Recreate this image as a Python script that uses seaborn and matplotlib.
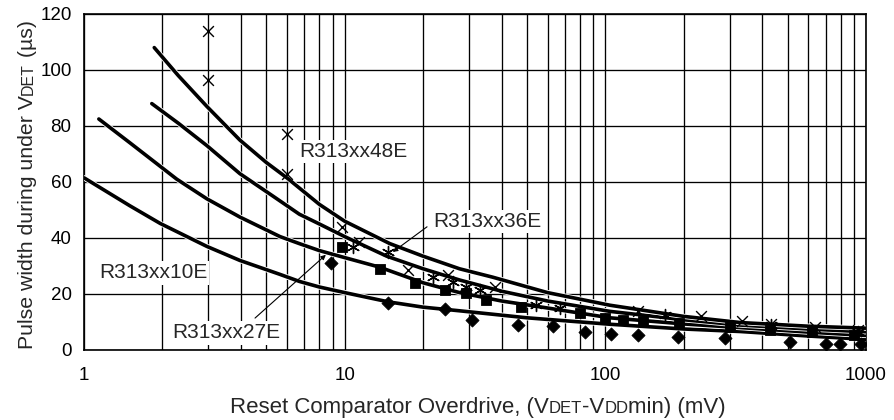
import matplotlib
matplotlib.use("Agg")
import matplotlib.pyplot as plt
import matplotlib.patheffects as pe
from matplotlib.ticker import LogLocator, FixedLocator, FuncFormatter, NullFormatter
from matplotlib.transforms import IdentityTransform
from matplotlib.font_manager import FontProperties
import pandas as pd
import seaborn as sns

# fitted curves, one per part
x_48e = [1.86, 2.3, 2.96, 3.96, 5.0, 6.0, 8.0, 10, 14.9, 20, 27.6, 37, 60, 104, 200, 330, 600, 1000]
y_48e = [108, 98, 87, 75, 67, 61.5, 52, 46, 38, 33.5, 29, 26, 20.5, 16, 12, 9.8, 8.5, 7.8]
x_36e = [1.82, 2.3, 2.96, 3.96, 5.3, 6.7, 8.0, 10, 14.5, 20, 27.6, 40, 60, 104, 200, 330, 600, 1000]
y_36e = [88, 81, 73, 63, 55, 48.5, 45, 40.5, 33.5, 29, 25, 21, 17.5, 13.8, 10.8, 8.9, 7.5, 6.5]
x_27e = [1.14, 1.5, 2.27, 2.96, 3.96, 5.65, 6.7, 8.0, 10, 13.6, 20, 27.6, 40, 60, 104, 200, 330, 600, 1000]
y_27e = [82.5, 74, 61, 54, 47.5, 40.5, 38, 35.5, 33, 29.6, 24, 20.5, 17.5, 15, 11.5, 9.3, 8.0, 6.4, 5.2]
x_10e = [1.0, 1.5, 1.96, 2.96, 3.96, 5.65, 6.7, 8.0, 10, 14.7, 20, 27.6, 50, 104, 200, 330, 600, 1000]
y_10e = [61.5, 51.5, 45.2, 37, 32, 27, 24.5, 22.5, 20.5, 17.2, 15.3, 14, 11.5, 9.2, 7.5, 6.6, 5.0, 3.8]

# measured points
mx_48e = [3, 3, 6, 6, 9.8, 11.4, 17.5, 24.9, 37.7, 133, 233, 333, 433, 635, 930]
my_48e = [114, 96.5, 77, 63, 44, 38.5, 28.5, 26.8, 22.6, 13.8, 12, 10.5, 9.2, 8.2, 7.3]
mx_36e = [10.8, 14.7, 21.8, 26, 29.3, 33, 54.3, 66.8, 169, 433, 930]
my_36e = [36.8, 35, 26.1, 24.3, 22.5, 21.4, 16.1, 14.9, 12.5, 9.0, 6.5]
mx_27e = [9.75, 13.7, 18.6, 24.2, 29.3, 34.9, 47.6, 80, 99.5, 117, 139, 192, 300, 430, 620, 900]
my_27e = [36.8, 29.1, 23.8, 21.4, 20.2, 17.8, 15.2, 13.1, 11.4, 10.8, 10.3, 9.8, 8.2, 7.2, 6.3, 5.3]
mx_10e = [8.9, 14.7, 24.2, 30.8, 46.2, 63, 83.6, 105, 134, 190, 287, 510, 705, 795, 955]
my_10e = [31, 16.9, 14.5, 10.7, 8.9, 8.4, 6.6, 5.6, 5.2, 4.5, 4.2, 2.8, 2.3, 2.3, 2.3]

x_major = [1, 10, 100, 1000]
y_major = [0, 20, 40, 60, 80, 100, 120]

FS_TICK = 13.5
FS_NOTE = 15


def rich_text(fig, pieces, x, y, vertical=False):
    """Draw text pieces of mixed sizes one after another, starting at pixel (x, y)."""
    renderer = fig.canvas.get_renderer()
    rot = 90 if vertical else 0
    pos = 0.0
    for s, fs in pieces:
        px, py = (x, y + pos) if vertical else (x + pos, y)
        fig.text(px, py, s, fontsize=fs, rotation=rot, rotation_mode="anchor",
                 ha="left", va="baseline", transform=IdentityTransform())
        prop = FontProperties(family=plt.rcParams["font.family"], size=fs)
        w, _, _ = renderer.get_text_width_height_descent(s, prop, ismath=False)
        pos += w


sns.set_style("white")
plt.rcParams["font.family"] = ["Liberation Sans", "DejaVu Sans"]

fig = plt.figure(figsize=(8.94, 4.2), dpi=100)
ax = fig.add_axes([84 / 894, 70 / 420, 782 / 894, 336 / 420])
ax.set_xscale("log")

halo = [pe.Stroke(linewidth=3.8, foreground="white"), pe.Normal()]
for xs, ys in [(x_10e, y_10e), (x_27e, y_27e), (x_36e, y_36e), (x_48e, y_48e)]:
    df = pd.DataFrame({"x": xs, "y": ys})
    sns.lineplot(data=df, x="x", y="y", ax=ax, color="black", linewidth=2.6,
                 sort=False, estimator=None, path_effects=halo, zorder=4)

sns.scatterplot(x=mx_48e, y=my_48e, ax=ax, marker="x", s=60, color="black", linewidth=1.0, zorder=5)
sns.scatterplot(x=mx_36e, y=my_36e, ax=ax, marker=(6, 2, 0), s=75, color="black", linewidth=1.0, zorder=5)
sns.scatterplot(x=mx_27e, y=my_27e, ax=ax, marker="s", s=55, color="black", edgecolor="black", zorder=5)
sns.scatterplot(x=mx_10e, y=my_10e, ax=ax, marker="D", s=45, color="black", edgecolor="black", zorder=5)

ax.set_xlim(1, 1000)
ax.set_ylim(0, 120)
ax.xaxis.set_major_locator(FixedLocator(x_major))
ax.xaxis.set_minor_locator(LogLocator(base=10, subs=range(2, 10)))
ax.xaxis.set_major_formatter(FuncFormatter(lambda v, p: f"{v:g}"))
ax.xaxis.set_minor_formatter(NullFormatter())
ax.yaxis.set_major_locator(FixedLocator(y_major))
ax.grid(True, which="both", color="black", linewidth=0.95)
ax.set_axisbelow(True)
ax.tick_params(axis="both", which="both", length=0, labelsize=FS_TICK, colors="black")
ax.tick_params(axis="x", pad=12)
ax.tick_params(axis="y", pad=9)
for sp in ax.spines.values():
    sp.set_color("black")
    sp.set_linewidth(1.2)
ax.set_xlabel("")
ax.set_ylabel("")

box = dict(facecolor="white", edgecolor="none", pad=1.5)
ax.text(6.68, 70.8, "R313xx48E", fontsize=FS_NOTE, ha="left", va="center", bbox=box, zorder=6)
ax.text(21.8, 45.8, "R313xx36E", fontsize=FS_NOTE, ha="left", va="center", bbox=box, zorder=6)
ax.text(1.14, 27.5, "R313xx10E", fontsize=FS_NOTE, ha="left", va="center", bbox=box, zorder=6)
ax.text(2.19, 6.1, "R313xx27E", fontsize=FS_NOTE, ha="left", va="center", bbox=box, zorder=6)

arrow = dict(arrowstyle="-|>", color="black", lw=0.8, mutation_scale=7, shrinkA=0, shrinkB=0)
ax.annotate("", xy=(8.47, 34), xytext=(4.53, 11.4), arrowprops=arrow, zorder=7)
ax.annotate("", xy=(15.3, 35), xytext=(20.7, 44), arrowprops=arrow, zorder=7)

fig.canvas.draw()
rich_text(fig, [("Reset Comparator Overdrive, (V", 16), ("DET", 12),
                ("-V", 16), ("DD", 12), ("min) (mV)", 16)], 230, 7)
rich_text(fig, [("Pulse width during under V", 15.3), ("DET", 11.5), (" (µs)", 15.3)],
          33, 71, vertical=True)

fig.savefig("out.png", dpi=100)
